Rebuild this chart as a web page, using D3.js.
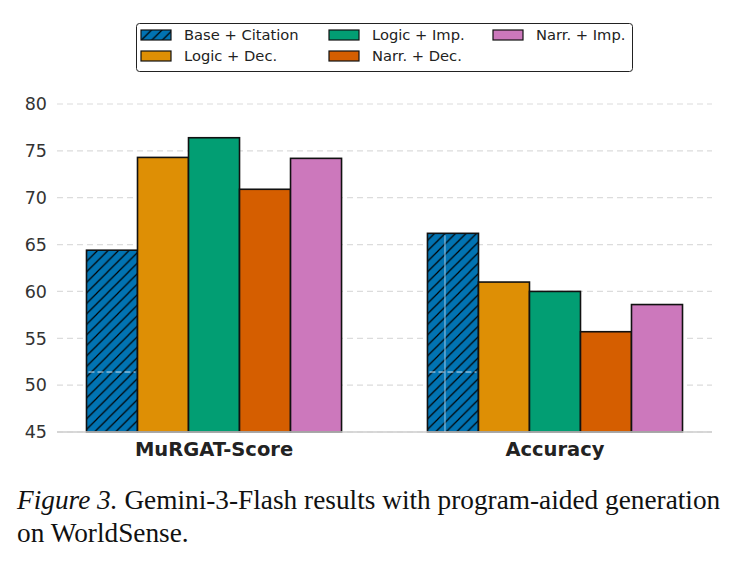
<!DOCTYPE html>
<html>
<head>
<meta charset="utf-8">
<script src="https://cdn.jsdelivr.net/npm/d3@7"></script>
<style>
  body { margin: 0; background: #fff; }
  svg { display: block; }
</style>
</head>
<body>
<svg width="735" height="562"></svg>
<script>
// data
var metrics = ["MuRGAT-Score", "Accuracy"];
var methods = ["Base + Citation", "Logic + Dec.", "Logic + Imp.", "Narr. + Dec.", "Narr. + Imp."];
var colors = ["#0173b2", "#de8f05", "#029e73", "#d55e00", "#cc78bc"];
var scoreValues = [64.4, 74.3, 76.4, 70.9, 74.2];
var accuracyValues = [66.2, 61.0, 60.0, 55.7, 58.6];
var yTicks = [45, 50, 55, 60, 65, 70, 75, 80];

var values = [scoreValues, accuracyValues];

var svg = d3.select("svg"),
    margin = {top: 104, right: 23, bottom: 130, left: 57},
    width = 735 - margin.left - margin.right,
    height = 562 - margin.top - margin.bottom;

var g = svg.append("g")
    .attr("transform", "translate(" + margin.left + "," + margin.top + ")");

// hatch for the baseline bars
var hs = 10.5;
var defs = svg.append("defs");
var pat = defs.append("pattern")
    .attr("id", "hatch")
    .attr("patternUnits", "userSpaceOnUse")
    .attr("width", hs).attr("height", hs);
pat.append("rect").attr("width", hs).attr("height", hs).attr("fill", colors[0]);
pat.append("path")
    .attr("d", "M-2," + (hs + 2) + " L" + (hs + 2) + ",-2 M-2,2 L2,-2 M" + (hs - 2) + "," + (hs + 2) + " L" + (hs + 2) + "," + (hs - 2))
    .attr("stroke", "#000").attr("stroke-width", 1.2);

var x0 = d3.scaleBand().domain(metrics).range([0, width]).paddingInner(0.252).paddingOuter(0.0865);
var x1 = d3.scaleBand().domain(methods).range([0, x0.bandwidth()]);
var y = d3.scaleLinear().domain([45, 80]).range([height, 0]);

// grid
g.selectAll(".grid").data(yTicks).enter().append("line")
    .attr("x1", 0).attr("x2", width)
    .attr("y1", function(d) { return y(d); })
    .attr("y2", function(d) { return y(d); })
    .attr("stroke", "#dcdcdc").attr("stroke-width", 1.2)
    .attr("stroke-dasharray", "6,4");

// y tick labels
g.selectAll(".ylab").data(yTicks).enter().append("text")
    .attr("x", -10).attr("y", function(d) { return y(d); })
    .attr("dy", "0.36em")
    .attr("text-anchor", "end")
    .style("font-family", "DejaVu Sans")
    .style("font-size", "17.5px")
    .style("fill", "#333")
    .text(function(d) { return d; });

// bars
var groups = g.selectAll(".grp").data(metrics).enter().append("g")
    .attr("transform", function(d) { return "translate(" + x0(d) + ",0)"; });

groups.selectAll("rect")
    .data(function(d, i) {
        return methods.map(function(m, j) { return {method: m, value: values[i][j], k: j}; });
    })
    .enter().append("rect")
    .attr("x", function(d) { return x1(d.method); })
    .attr("width", x1.bandwidth())
    .attr("y", function(d) { return y(d.value); })
    .attr("height", function(d) { return height - y(d.value); })
    .attr("fill", function(d) { return d.k === 0 ? "url(#hatch)" : colors[d.k]; })
    .attr("stroke", "#111").attr("stroke-width", 1.6);

// faint artefact lines seen inside the baseline bars
groups.append("line")
    .attr("x1", x1(methods[0]) + 2).attr("x2", x1(methods[0]) + x1.bandwidth() - 2)
    .attr("y1", y(51.4)).attr("y2", y(51.4))
    .attr("stroke", "#cfe3f2").attr("stroke-width", 1).attr("stroke-dasharray", "6,3");
g.append("line")
    .attr("x1", x0(metrics[1]) + x1(methods[0]) + 17.5)
    .attr("x2", x0(metrics[1]) + x1(methods[0]) + 17.5)
    .attr("y1", y(accuracyValues[0]) + 2).attr("y2", height)
    .attr("stroke", "#8fbfe0").attr("stroke-width", 1.4).attr("opacity", 0.8);

// baseline
g.append("line")
    .attr("x1", 0).attr("x2", width)
    .attr("y1", height).attr("y2", height)
    .attr("stroke", "#cccccc").attr("stroke-width", 1.5);

// x labels
g.selectAll(".xlab").data(metrics).enter().append("text")
    .attr("x", function(d) { return x0(d) + x0.bandwidth() / 2; })
    .attr("y", height + 24)
    .attr("text-anchor", "middle")
    .style("font-family", "DejaVu Sans")
    .style("font-weight", "bold")
    .style("font-size", "19.5px")
    .style("fill", "#222")
    .text(function(d) { return d; });

// legend
var legend = svg.append("g").attr("transform", "translate(136,23)");
legend.append("rect")
    .attr("x", 0.5).attr("y", 0.5)
    .attr("width", 496).attr("height", 48).attr("rx", 3)
    .attr("fill", "#fff").attr("stroke", "#222").attr("stroke-width", 1);
var colX = [5, 193, 357], rowY = [7, 28];
methods.forEach(function(m, i) {
    var col = Math.floor(i / 2), row = i % 2;
    var lg = legend.append("g").attr("transform", "translate(" + colX[col] + "," + rowY[row] + ")");
    lg.append("rect")
        .attr("width", 30).attr("height", 10)
        .attr("fill", i === 0 ? "url(#hatch)" : colors[i])
        .attr("stroke", "#111").attr("stroke-width", 1.2);
    lg.append("text")
        .attr("x", 43).attr("y", 5).attr("dy", "0.36em")
        .style("font-family", "DejaVu Sans")
        .style("font-size", "14.7px")
        .style("fill", "#222")
        .text(m);
});

// caption
var cap = svg.append("text")
    .attr("x", 17).attr("y", 509)
    .style("font-family", "'Liberation Serif', 'Times New Roman', serif")
    .style("font-size", "27.3px")
    .style("fill", "#111");
cap.append("tspan").style("font-style", "italic").text("Figure 3.");
cap.append("tspan").text(" Gemini-3-Flash results with program-aided generation");
svg.append("text")
    .attr("x", 17).attr("y", 542)
    .style("font-family", "'Liberation Serif', 'Times New Roman', serif")
    .style("font-size", "27.3px")
    .style("fill", "#111")
    .text("on WorldSense.");
</script>
</body>
</html>
